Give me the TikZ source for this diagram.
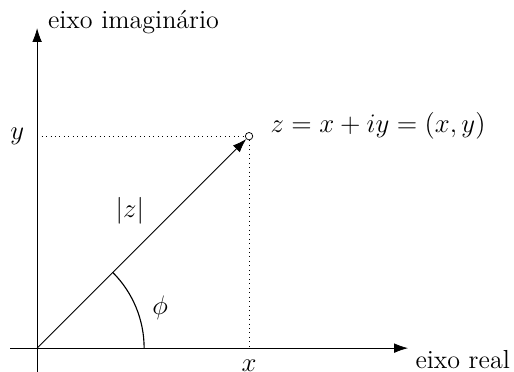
\documentclass[tikz,border=0pt]{standalone}
\usepackage{amsmath,amssymb}
\usepackage{tikz}
\usetikzlibrary{arrows.meta, positioning, calc}
\tikzset{
  cp-axis/.style={-{Latex[length=2.6mm,width=1.8mm]}, thin},
  cp-vec/.style={-{Latex[length=2.6mm,width=1.8mm]}, thin},
  cp-proj/.style={dotted, thin},
  cp-pt/.style={circle, draw, thin, inner sep=0pt, minimum size=1.4mm},
  cp-arc/.style={semithick},
}

\begin{document}
\begin{tikzpicture}[font=\fontsize{14}{17}\selectfont]
  \useasboundingbox (-0.70,-0.45) rectangle (9.0,6.57);

  \coordinate (o) at (0,0);
  \coordinate (xs) at (-0.51,0);
  \coordinate (xe) at (7,0);
  \coordinate (ys) at (0,-0.6);
  \coordinate (ye) at (0,6.04);
  \coordinate (px) at (4,0);
  \coordinate (py) at (0,4);
  \node[cp-pt] (z) at (4,4) {};

  \draw[cp-axis] (xs) -- (xe);
  \draw[cp-axis] (ys) -- (ye);
  \node[anchor=north west, inner sep=1pt, xshift=0.1cm] (re) at (xe) {eixo real};
  \node[anchor=base west, inner sep=0pt, xshift=0.2cm] (im) at (ye) {eixo imagin\'ario};

  \draw[cp-proj] (py) -- (z);
  \draw[cp-proj] (z) -- (px);
  \draw[cp-vec] (o) -- (z);
  \draw[cp-arc] ($(o)+(2.02,0)$) arc[start angle=0, end angle=45, radius=2.02];

  \node[below=0.1cm of px] (xlab) {$x$};
  \node[left=0.12cm of py] (ylab) {$y$};
  \node[anchor=base west, inner sep=0pt] (zlab) at ([shift={(0.4,0.06)}]z) {$z = x + iy = (x,y)$};
  \node (modz) at (1.75,2.6) {$|z|$};
  \node (phi) at (2.32,0.77) {$\phi$};
\end{tikzpicture}
\end{document}
